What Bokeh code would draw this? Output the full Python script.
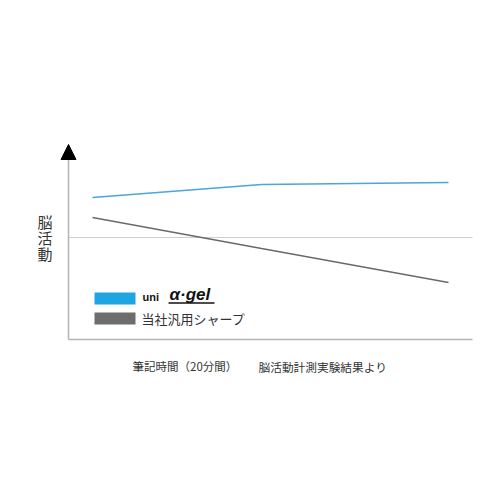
from bokeh.plotting import figure
from bokeh.models import Range1d, Label, Arrow, NormalHead
from bokeh.embed import file_html
from bokeh.resources import INLINE

# ---- data ----
minutes = [0, 9.5, 20]                 # 筆記時間 (20分間)
alpha_gel = [40, 53, 55]               # uni α-gel  brain activity (relative)
generic = [20, -11, -45]               # 当社汎用シャープ
series_names = ["uni α·gel", "当社汎用シャープ"]
y_title_chars = ["脳", "活", "動"]
x_title = "筆記時間（20分間）"
source_note = "脳活動計測実験結果より"

# ---- layout helpers (page px -> data) ----
X0, PPM = 92.0, 17.8      # page x of minute 0, px per minute
Y0 = 237.0                # page y of activity 0 (1 unit = 1 px)
def px2x(p): return (p - X0) / PPM
def py2y(p): return Y0 - p

BLUE_LINE = "#4aa6db"
GRAY_LINE = "#6a6a6a"
BLUE_SW = "#1fa5e0"
GRAY_SW = "#6d6d6d"
AXIS_C = "#b5b5b5"
TXT = "#333333"
CJK = "Noto Sans CJK JP"

p = figure(width=484, height=484, output_backend="svg", toolbar_location=None,
           x_range=Range1d(px2x(0), px2x(484)), y_range=Range1d(py2y(484), py2y(0)),
           min_border=0, outline_line_color=None)
p.axis.visible = False
p.grid.visible = False
p.background_fill_color = "white"
p.border_fill_color = "white"

# reference (baseline) line and axes
xa0, xa1 = px2x(68), px2x(472)
p.segment(x0=[xa0], y0=[0], x1=[xa1], y1=[0], line_color="#cfcfcf", line_width=1)
p.segment(x0=[xa0], y0=[py2y(339)], x1=[xa1], y1=[py2y(339)], line_color=AXIS_C, line_width=1.5)
p.segment(x0=[xa0], y0=[py2y(339)], x1=[xa0], y1=[py2y(156)], line_color=AXIS_C, line_width=1.5)
p.add_layout(Arrow(end=NormalHead(size=15, fill_color="black", line_color="black"),
                   x_start=xa0, y_start=py2y(160), x_end=xa0, y_end=py2y(144),
                   line_alpha=0))

# series
p.line(minutes, alpha_gel, line_color=BLUE_LINE, line_width=1.7)
p.line(minutes, generic, line_color=GRAY_LINE, line_width=1.5)

# legend swatches
p.quad(left=[px2x(94)], right=[px2x(135)], top=[py2y(292)], bottom=[py2y(304)],
       fill_color=BLUE_SW, line_color=None)
p.quad(left=[px2x(94)], right=[px2x(135)], top=[py2y(312)], bottom=[py2y(324)],
       fill_color=GRAY_SW, line_color=None)
p.add_layout(Label(x=px2x(141), y=py2y(318), text=series_names[1], text_font=CJK,
                   text_font_size="13px", text_color=TXT, text_baseline="middle"))

# uni α-gel logo as text
p.add_layout(Label(x=px2x(142), y=py2y(302.5), text="uni", text_font="Liberation Sans",
                   text_font_style="bold", text_font_size="11px", text_color="#111111",
                   text_baseline="bottom"))
p.add_layout(Label(x=px2x(169), y=py2y(303.5), text="α·gel", text_font="Liberation Sans",
                   text_font_style="bold italic", text_font_size="17px", text_color="#111111",
                   text_baseline="bottom"))
p.segment(x0=[px2x(168)], y0=[py2y(302.5)], x1=[px2x(214)], y1=[py2y(302.5)],
          line_color="#111111", line_width=1.4)

# y title (stacked)
for i, ch in enumerate(y_title_chars):
    p.add_layout(Label(x=px2x(44.5), y=py2y(221 + 16 * i), text=ch, text_font=CJK,
                       text_font_size="15px", text_color=TXT, text_align="center",
                       text_baseline="middle"))

# x title and note
p.add_layout(Label(x=px2x(132), y=py2y(365), text=x_title, text_font=CJK,
                   text_font_size="11.5px", text_color=TXT, text_baseline="middle"))
p.add_layout(Label(x=px2x(258), y=py2y(366), text=source_note, text_font=CJK,
                   text_font_size="11.7px", text_color=TXT, text_baseline="middle"))

open("out.html", "w").write(file_html(p, INLINE))
